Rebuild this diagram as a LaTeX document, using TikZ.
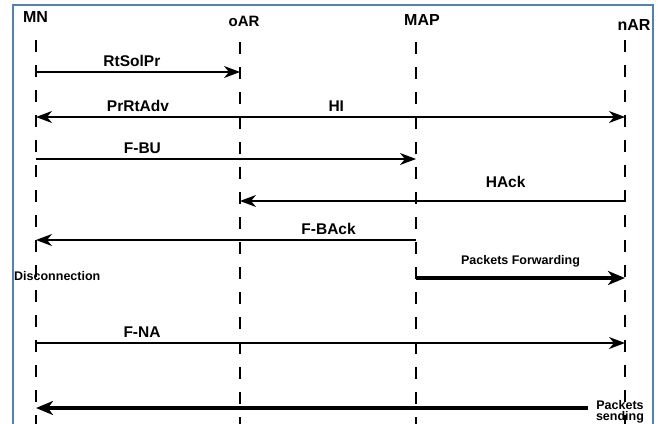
\documentclass[tikz,border=0pt]{standalone}
\usepackage{fontspec}
\setmainfont{Liberation Sans}
\usetikzlibrary{arrows.meta}
\definecolor{frameblue}{RGB}{79,129,189}
\tikzset{
  lifeline/.style={line width=2pt,dash pattern=on 12pt off 13pt},
  msg/.style={line width=1.4pt,-{Stealth[length=16pt,width=12pt,inset=5pt]}},
  bulk/.style={line width=3.4pt,-{Stealth[length=17pt,width=14pt,inset=5pt]}},
  head/.style={inner sep=0pt,font=\fontsize{16}{18}\selectfont\bfseries},
  lbl/.style={inner sep=0pt,text depth=0pt,above=5pt,font=\fontsize{15.5}{17}\selectfont\bfseries},
  note/.style={inner sep=0pt,align=center,font=\fontsize{12.5}{11}\selectfont\bfseries}
}
\begin{document}
\begin{tikzpicture}[x=1pt,y=-1pt]
    \useasboundingbox (0,0) rectangle (661,423);
    \draw[frameblue,line width=2pt] (13,5) rectangle (653,440);
    \def\xa{36}
    \def\xb{240}
    \def\xc{416}
    \def\xd{625}
    \node[head] (MN) at (35.5,16.5) {MN};
    \node[head,font=\fontsize{15}{17}\selectfont\bfseries] (oAR) at (244,21.5) {oAR};
    \node[head] (MAP) at (422,20) {MAP};
    \node[head] (nAR) at (634,25) {nAR};
    \coordinate (MN_top) at (\xa,40);
    \coordinate (MN_end) at (\xa,425);
    \coordinate (oAR_top) at (\xb,42);
    \coordinate (oAR_end) at (\xb,425);
    \coordinate (MAP_top) at (\xc,42);
    \coordinate (MAP_end) at (\xc,425);
    \coordinate (nAR_top) at (\xd,40);
    \coordinate (nAR_end) at (\xd,425);
    \draw[lifeline] (MN_top) -- (MN_end);
    \draw[lifeline] (oAR_top) -- (oAR_end);
    \draw[lifeline] (MAP_top) -- (MAP_end);
    \draw[lifeline] (nAR_top) -- (nAR_end);
    \coordinate (A1_1) at (\xa,72);
    \coordinate (A1_2) at (\xb,72);
    \coordinate (A2_1) at (\xa,117);
    \coordinate (A2_2) at (\xb,117);
    \coordinate (A2_4) at (\xd,117);
    \coordinate (A3_1) at (\xa,159);
    \coordinate (A3_3) at (\xc,159);
    \coordinate (A4_2) at (\xb,201);
    \coordinate (A4_4) at (\xd,201);
    \coordinate (A5_1) at (\xa,240);
    \coordinate (A5_3) at (\xc,240);
    \coordinate (A6_3) at (\xc,278);
    \coordinate (A6_4) at (\xd,278);
    \coordinate (A7_1) at (\xa,343);
    \coordinate (A7_4) at (\xd,343);
    \coordinate (A8_0) at (588,408);
    \coordinate (A8_1) at (\xa,408);
    \path (A1_1) edge [msg] node [lbl,pos=0.47] {RtSolPr} (A1_2);
    \path (A2_2) edge [msg] node [lbl,pos=0.5] {PrRtAdv} (A2_1);
    \path (A2_2) edge [msg] node [lbl,pos=0.25] {HI} (A2_4);
    \path (A3_1) edge [msg] node [lbl,pos=0.28] {F-BU} (A3_3);
    \path (A4_4) edge [msg] node [lbl,pos=0.31,above=8pt] {HAck} (A4_2);
    \path (A5_3) edge [msg] node [lbl,pos=0.23] {F-BAck} (A5_1);
    \path (A6_3) edge [bulk] node [note,pos=0.5,above=9pt] {Packets Forwarding} (A6_4);
    \path (A7_1) edge [msg] node [lbl,pos=0.18] {F-NA} (A7_4);
    \path (A8_0) edge [bulk] (A8_1);
    \node[note,anchor=west] (Disc) at (14,276) {Disconnection};
    \node[note] (PktSend) at (620,412) {Packets\\sending};
\end{tikzpicture}
\end{document}
